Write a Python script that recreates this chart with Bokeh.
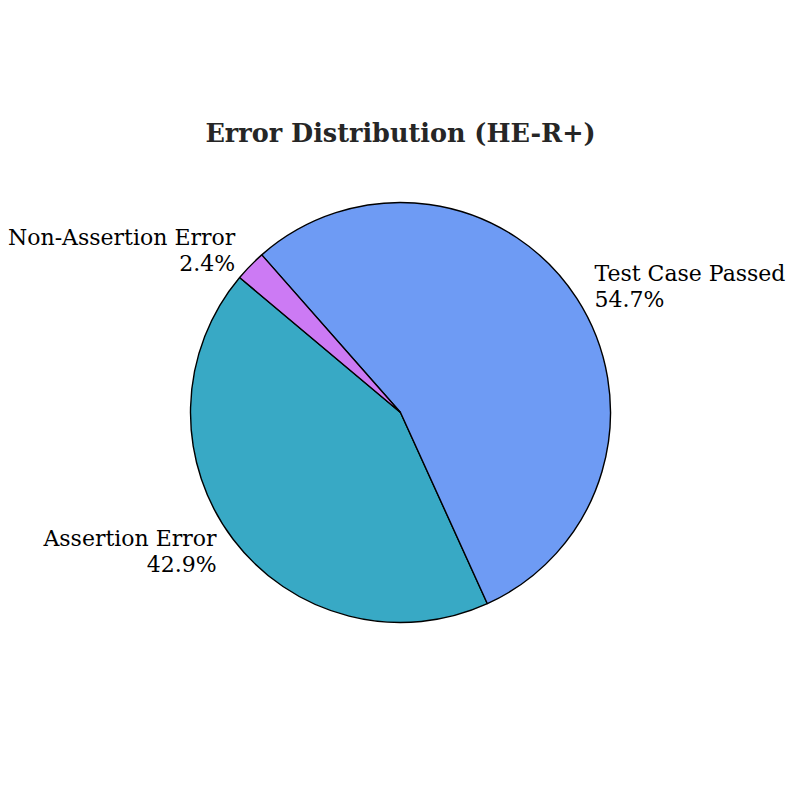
import math
from bokeh.plotting import figure
from bokeh.models import Range1d
from bokeh.core.properties import value
from bokeh.embed import file_html
from bokeh.resources import INLINE

# Data
labels = ["Assertion Error", "Test Case Passed", "Non-Assertion Error"]
percents = [42.9, 54.7, 2.4]
colors = ["#38a9c5", "#6e9bf4", "#cc7af4"]
title_text = "Error Distribution (HE-R+)"
start_angle_deg = 140.0

W = 789
H = 789
R_PX = 210.0
CX, CY = 400.0, 412.0  # center in figure pixel coords (from top-left)

x0 = -CX / R_PX
x1 = (W - CX) / R_PX
y1 = CY / R_PX
y0 = -(H - CY) / R_PX

p = figure(width=W, height=H, output_backend="svg", toolbar_location=None,
           x_range=Range1d(x0, x1), y_range=Range1d(y0, y1),
           min_border=0, outline_line_color=None)
p.axis.visible = False
p.grid.visible = False
p.background_fill_color = "white"
p.border_fill_color = "white"

total = sum(percents)
starts, ends, mids = [], [], []
a = math.radians(start_angle_deg)
for v in percents:
    span = 2 * math.pi * v / total
    starts.append(a)
    ends.append(a + span)
    mids.append(a + span / 2)
    a += span

p.wedge(x=[0] * len(percents), y=[0] * len(percents), radius=1.0,
        start_angle=starts, end_angle=ends, fill_color=colors,
        line_color="black", line_width=1.4)

FONT = value("DejaVu Serif")
FS = "22px"
for lab, pct, m in zip(labels, percents, mids):
    lx = 1.1 * math.cos(m)
    ly = 1.1 * math.sin(m)
    align = "left" if lx > 0 else "right"
    p.text(x=[lx], y=[ly], text=[lab], text_align=align, text_baseline="middle",
           y_offset=-14, text_font=FONT, text_font_size=FS, text_color="black")
    p.text(x=[lx], y=[ly], text=[f"{pct:.1f}%"], text_align=align, text_baseline="middle",
           y_offset=12, text_font=FONT, text_font_size=FS, text_color="black")

p.text(x=[0], y=[(CY - 132) / R_PX], text=[title_text],
       text_align="center", text_baseline="middle", text_font=FONT,
       text_font_size="25.5px", text_font_style="bold", text_color="#262626")

open("out.html", "w").write(file_html(p, INLINE))
